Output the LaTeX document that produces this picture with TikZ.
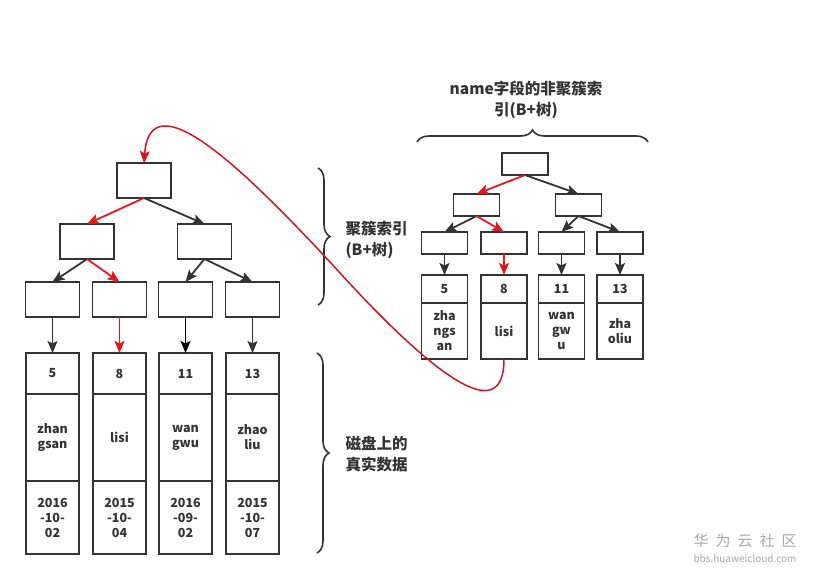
\documentclass[tikz,border=0pt]{standalone}
\usepackage{fontspec}
\setmainfont{Noto Sans CJK SC}
\usetikzlibrary{arrows.meta,positioning,decorations.pathreplacing}
\definecolor{inkdark}{HTML}{333333}
\definecolor{hotred}{HTML}{E01A1A}
\definecolor{curvered}{HTML}{C81820}
\definecolor{wmgray}{HTML}{A8A8A8}

\begin{document}
\begin{tikzpicture}[x=1pt, y=-1pt,
  treebox/.style={draw=inkdark, line width=1.8pt, minimum width=54pt, minimum height=35pt, inner sep=0pt, outer sep=0pt},
  smallbox/.style={treebox, minimum width=46pt, minimum height=22pt},
  cell/.style={draw=inkdark, line width=1.8pt, minimum width=53pt, inner sep=0pt, outer sep=0pt, align=center, text=inkdark, font=\fontsize{12.5}{15}\selectfont\bfseries},
  numcell/.style={cell, minimum height=41pt},
  namecell/.style={cell, minimum height=87pt},
  datecell/.style={cell, minimum height=73pt},
  snumcell/.style={cell, minimum width=46pt, minimum height=28pt},
  snamecell/.style={cell, minimum width=46pt, minimum height=56pt},
  arr/.style={-{Stealth[length=12pt, width=10pt, inset=2.5pt]}, draw=inkdark, line width=1.8pt},
  redarr/.style={arr, draw=hotred},
  curvearr/.style={-{Stealth[length=12pt, width=10pt, inset=2.5pt]}, draw=curvered, line width=1.5pt},
  brace/.style={draw=inkdark, line width=1.6pt, decorate, decoration={brace, amplitude=12pt}},
  tag/.style={text=inkdark, font=\fontsize{15.5}{21}\selectfont\bfseries}
]
  \useasboundingbox (0,0) rectangle (813,570);

  % clustered index
  \node[treebox] (croot) at (144,180.5) {};
  \node[treebox] (cl) at (87,241.5) {};
  \node[treebox] (cr) at (204.5,241.5) {};
  \node[treebox] (cla) at (52.5,299.5) {};
  \node[treebox] (clb) at (119.5,299.5) {};
  \node[treebox] (cra) at (185.5,299.5) {};
  \node[treebox] (crb) at (252.5,299.5) {};

  \draw[redarr] (croot.south) -- (cl.north);
  \draw[arr] (croot.south) -- (cr.north);
  \draw[arr] (cl.south) -- (cla.north);
  \draw[redarr] (cl.south) -- (clb.north);
  \draw[arr] (cr.south) -- (cra.north);
  \draw[arr] (cr.south) -- (crb.north);

  % rows on disk
  \node[numcell] (d5) at (52.5,373.5) {5};
  \node[namecell, below=0pt of d5] (d5n) {zhan\\gsan};
  \node[datecell, below=0pt of d5n] (d5d) {2016\\-10-\\02};
  \node[numcell] (d8) at (119.5,373.5) {8};
  \node[namecell, below=0pt of d8] (d8n) {lisi};
  \node[datecell, below=0pt of d8n] (d8d) {2015\\-10-\\04};
  \node[numcell] (d11) at (185.5,373.5) {11};
  \node[namecell, below=0pt of d11] (d11n) {wan\\gwu};
  \node[datecell, below=0pt of d11n] (d11d) {2016\\-09-\\02};
  \node[numcell] (d13) at (252.5,373.5) {13};
  \node[namecell, below=0pt of d13] (d13n) {zhao\\liu};
  \node[datecell, below=0pt of d13n] (d13d) {2015\\-10-\\07};

  \draw[arr] (cla.south) -- (d5.north);
  \draw[redarr] (clb.south) -- (d8.north);
  \draw[arr, draw=black] (cra.south) -- (d11.north);
  \draw[arr] (crb.south) -- (d13.north);

  \draw[brace] (318,168) -- (318,305);
  \node[tag, anchor=west, align=left] (cidx) at (342,239.5) {聚簇索引\\(B+树)};
  \draw[brace] (317,353) -- (317,553);
  \node[tag, anchor=west, align=left] (disk) at (342,454) {磁盘上的\\真实数据};

  % secondary index on name
  \node[tag, align=center] (nidx) at (526,99.5) {name字段的非聚簇索\\引(B+树)};
  \draw[brace] (417,142) -- (648,142);

  \node[smallbox] (nroot) at (525,164) {};
  \node[smallbox] (nl) at (476.5,205) {};
  \node[smallbox] (nr) at (578.5,205) {};
  \node[smallbox] (nla) at (444.5,243) {};
  \node[smallbox] (nlb) at (504,243) {};
  \node[smallbox] (nra) at (561.5,243) {};
  \node[smallbox] (nrb) at (620,243) {};

  \draw[redarr] (nroot.south) -- (nl.north);
  \draw[arr] (nroot.south) -- (nr.north);
  \draw[arr] (nl.south) -- (nla.north);
  \draw[redarr] (nl.south) -- (nlb.north);
  \draw[arr] (nr.south) -- (nra.north);
  \draw[arr] (nr.south) -- (nrb.north);

  \node[snumcell] (r5) at (444.5,289) {5};
  \node[snamecell, below=0pt of r5] (r5n) {zha\\ngs\\an};
  \node[snumcell] (r8) at (504,289) {8};
  \node[snamecell, below=0pt of r8] (r8n) {lisi};
  \node[snumcell] (r11) at (561.5,289) {11};
  \node[snamecell, below=0pt of r11] (r11n) {wan\\gw\\u};
  \node[snumcell] (r13) at (620,289) {13};
  \node[snamecell, below=0pt of r13] (r13n) {zha\\oliu};

  \draw[arr] (nla.south) -- (r5.north);
  \draw[redarr] (nlb.south) -- (r8.north);
  \draw[arr] (nra.south) -- (r11.north);
  \draw[arr] (nrb.south) -- (r13.north);

  % back to the clustered index
  \draw[curvearr] (r8n.south) .. controls (504,420) and (450,395) .. (330,262)
    .. controls (240,165) and (150,80) .. (croot.north);

  \node[text=wmgray, font=\fontsize{15}{15}\selectfont] (wm) at (745,541) {华\hspace{7pt}为\hspace{7pt}云\hspace{7pt}社\hspace{7pt}区};
  \node[text=wmgray, font=\fontsize{10}{10}\selectfont, below=0pt of wm] (wmurl) {bbs.huaweicloud.com};
\end{tikzpicture}
\end{document}
